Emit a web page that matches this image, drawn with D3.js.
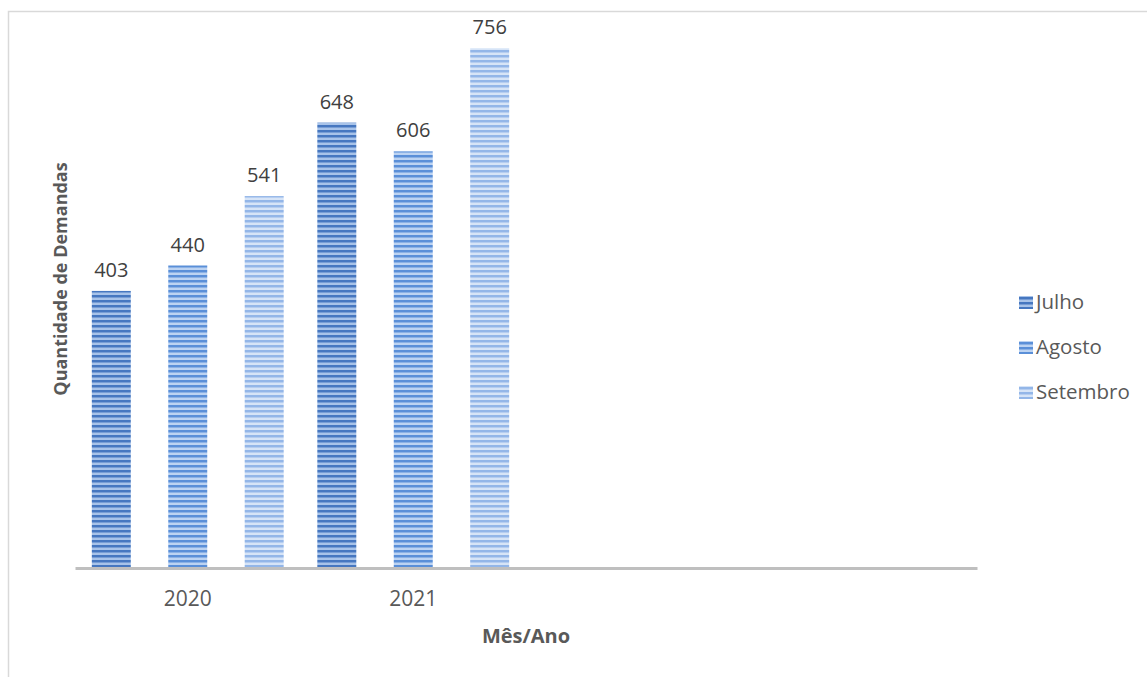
<!DOCTYPE html>
<html>
<head>
<meta charset="utf-8">
<script src="https://cdn.jsdelivr.net/npm/d3@7"></script>
<style>
  body { margin: 0; background: #fff; }
  text { font-family: "Open Sans", "Noto Sans", sans-serif; }
</style>
</head>
<body>
<svg id="chart" width="1147" height="677"></svg>
<script>
// chart data
const years = ["2020", "2021", "", " "];
const months = ["Julho", "Agosto", "Setembro"];
const julho = [403, 648];
const agosto = [440, 606];
const setembro = [541, 756];
const yMax = 800;

const seriesValues = [julho, agosto, setembro];
const stripeColors = [
  { dark: "#4677c0", light: "#a8c3e9" },
  { dark: "#5a8fd8", light: "#bcd3f2" },
  { dark: "#93b6e8", light: "#d6e4f7" }
];

const svg = d3.select("#chart");
const margin = { left: 75, right: 170, top: 18, bottom: 109 };
const width = 1147, height = 677;

// frame
svg.append("rect")
  .attr("x", 8.5).attr("y", 11.5)
  .attr("width", 1150).attr("height", 700)
  .attr("fill", "none")
  .attr("stroke", "#d9d9d9")
  .attr("stroke-width", 1.5);

// stripe patterns
const defs = svg.append("defs");
stripeColors.forEach((c, i) => {
  const p = defs.append("pattern")
    .attr("id", "stripe" + i)
    .attr("patternUnits", "userSpaceOnUse")
    .attr("width", 10).attr("height", 5);
  p.append("rect").attr("width", 10).attr("height", 5).attr("fill", c.light);
  p.append("rect").attr("y", 0).attr("width", 10).attr("height", 2).attr("fill", c.dark);
  p.append("rect").attr("y", 2).attr("width", 10).attr("height", 1)
    .attr("fill", d3.interpolateRgb(c.dark, c.light)(0.5));
});

const x0 = d3.scaleBand()
  .domain(years)
  .range([margin.left, width - margin.right]);

const x1 = d3.scaleBand()
  .domain(months)
  .range([0, x0.bandwidth()])
  .paddingInner(0.49)
  .paddingOuter(0.22);

const y = d3.scaleLinear()
  .domain([0, yMax])
  .range([height - margin.bottom, margin.top]);

const data = [];
years.slice(0, 2).forEach((yr, i) => {
  months.forEach((m, j) => {
    data.push({ year: yr, month: m, idx: j, value: seriesValues[j][i] });
  });
});

svg.selectAll("rect.bar")
  .data(data)
  .enter()
  .append("rect")
  .attr("class", "bar")
  .attr("x", (d) => x0(d.year) + x1(d.month))
  .attr("y", (d) => y(d.value))
  .attr("width", x1.bandwidth())
  .attr("height", (d) => y(0) - y(d.value))
  .attr("fill", (d) => `url(#stripe${d.idx})`);

svg.selectAll("text.value")
  .data(data)
  .enter()
  .append("text")
  .attr("class", "value")
  .attr("x", (d) => x0(d.year) + x1(d.month) + x1.bandwidth() / 2)
  .attr("y", (d) => y(d.value) - 14)
  .attr("text-anchor", "middle")
  .style("font-size", "20px")
  .attr("fill", "#404040")
  .text((d) => d.value);

// x axis
const xAxis = svg.append("g")
  .attr("transform", `translate(0,${y(0)})`)
  .call(d3.axisBottom(x0).tickSize(0).tickPadding(23));
xAxis.select(".domain")
  .attr("stroke", "#bfbfbf")
  .attr("stroke-width", 3);
xAxis.selectAll("text")
  .style("font-size", "21px")
  .style("font-family", "'Open Sans', sans-serif")
  .attr("fill", "#595959");

// axis titles
svg.append("text")
  .attr("x", (margin.left + width - margin.right) / 2)
  .attr("y", 643)
  .attr("text-anchor", "middle")
  .style("font-size", "20px")
  .style("font-weight", "bold")
  .attr("fill", "#595959")
  .text("Mês/Ano");

svg.append("text")
  .attr("transform", "translate(67,279) rotate(-90)")
  .attr("text-anchor", "middle")
  .style("font-size", "18px")
  .style("font-weight", "bold")
  .attr("fill", "#595959")
  .text("Quantidade de Demandas");

// legend
const legend = svg.selectAll("g.legend")
  .data(months)
  .enter()
  .append("g")
  .attr("class", "legend")
  .attr("transform", (d, i) => `translate(1019,${302 + i * 45})`);

legend.append("rect")
  .attr("x", 0).attr("y", -6)
  .attr("width", 14).attr("height", 13)
  .attr("fill", (d, i) => `url(#stripe${i})`);

legend.append("text")
  .attr("x", 17)
  .attr("y", 7)
  .style("font-size", "20.5px")
  .attr("fill", "#595959")
  .text((d) => d);
</script>
</body>
</html>
